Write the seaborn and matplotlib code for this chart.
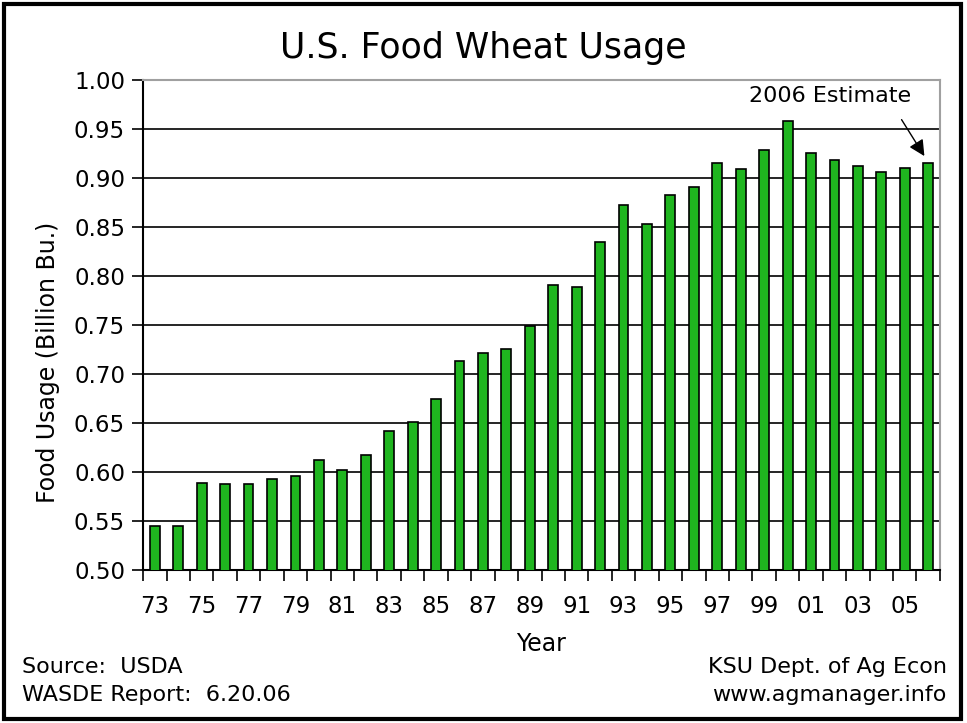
import numpy as np
import pandas as pd
import matplotlib
matplotlib.use('Agg')
from matplotlib import pyplot as plt
from matplotlib.patches import Rectangle
import seaborn as sns

# data (billion bushels)
years = list(range(1973, 2007))
usage = [0.545, 0.545, 0.589, 0.588, 0.588, 0.593, 0.596, 0.612, 0.602, 0.617,
         0.642, 0.651, 0.675, 0.713, 0.721, 0.726, 0.749, 0.791, 0.789, 0.835,
         0.872, 0.853, 0.883, 0.891, 0.915, 0.909, 0.929, 0.958, 0.926, 0.918,
         0.912, 0.906, 0.910, 0.915]
year_labels = [str(y)[2:] for y in years]
y_ticks = [0.50, 0.55, 0.60, 0.65, 0.70, 0.75, 0.80, 0.85, 0.90, 0.95, 1.00]

sns.set_style('white')
plt.rcParams['font.family'] = ['DejaVu Sans']
plt.rcParams['text.color'] = 'black'
plt.rcParams['axes.labelcolor'] = 'black'
plt.rcParams['xtick.color'] = 'black'
plt.rcParams['ytick.color'] = 'black'

df = pd.DataFrame({'year': year_labels, 'usage': usage})
n = len(years)

fig = plt.figure(figsize=(9.67, 7.23), dpi=100)
ax = fig.add_axes([0.148, 0.2116, 0.824, 0.6777])

sns.barplot(data=df, x='year', y='usage', color='#1fb51f', saturation=1,
            edgecolor='black', linewidth=1.2, width=0.42, ax=ax, zorder=3)

ax.set_ylim(0.5, 1.0)
ax.set_xlim(-0.5, n - 0.5)

# y axis
ax.set_yticks(y_ticks)
ax.set_yticklabels(['%.2f' % v for v in y_ticks])
ax.tick_params(axis='y', left=True, direction='out', length=8, width=1.2,
               pad=5, labelsize=16.5)
ax.yaxis.grid(True, color='black', linewidth=1.2)
ax.set_axisbelow(True)

# x axis: ticks between bars, labels every other year
ax.set_xticks(np.arange(-0.5, n, 1))
ax.set_xticklabels([])
ax.set_xticks(np.arange(0, n, 2), minor=True)
ax.set_xticklabels(year_labels[::2], minor=True)
ax.tick_params(axis='x', which='major', bottom=True, direction='out',
               length=8, width=1.2)
ax.tick_params(axis='x', which='minor', bottom=True, length=0, pad=18,
               labelsize=16.5)

ax.set_xlabel('Year', fontsize=17, labelpad=10)
ax.set_ylabel('Food Usage (Billion Bu.)', fontsize=17)
ax.yaxis.set_label_coords(-0.104, 0.424)

for side in ['left', 'bottom']:
    ax.spines[side].set_color('black')
    ax.spines[side].set_linewidth(1.5)
for side in ['top', 'right']:
    ax.spines[side].set_color('#a0a0a0')
    ax.spines[side].set_linewidth(1.5)

fig.suptitle('U.S. Food Wheat Usage', fontsize=25, x=0.5, y=0.934, va='center')

# 2006 estimate note
ax.text(28.8, 0.984, '2006 Estimate', fontsize=16, ha='center', va='center')
ax.annotate('', xy=(32.9, 0.920), xytext=(31.8, 0.962),
            arrowprops=dict(arrowstyle='-|>', color='black', lw=1.0,
                            mutation_scale=24))

# footer
fig.text(0.023, 0.078, 'Source:  USDA', fontsize=16, va='center')
fig.text(0.023, 0.039, 'WASDE Report:  6.20.06', fontsize=16, va='center')
fig.text(0.979, 0.078, 'KSU Dept. of Ag Econ', fontsize=16, va='center', ha='right')
fig.text(0.979, 0.039, 'www.agmanager.info', fontsize=16, va='center', ha='right')

# outer frame
fig.patches.append(Rectangle((0.004, 0.005), 0.99, 0.99, transform=fig.transFigure,
                             fill=False, edgecolor='black', linewidth=3))

fig.savefig('out.png', dpi=100)
